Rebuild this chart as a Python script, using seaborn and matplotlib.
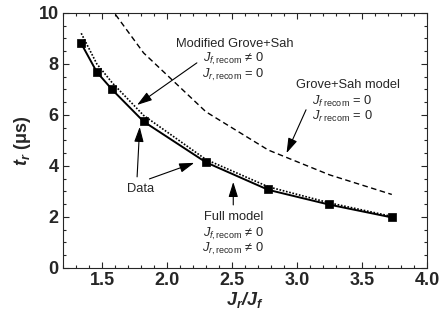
import matplotlib
matplotlib.use("Agg")
import matplotlib.pyplot as plt
import seaborn as sns
import pandas as pd
from matplotlib.ticker import MultipleLocator

# measured data (Jr/Jf, tr in us)
ratio = [1.34, 1.46, 1.58, 1.82, 2.30, 2.78, 3.25, 3.73]
tr_data = [8.8, 7.7, 7.0, 5.75, 4.17, 3.1, 2.5, 2.0]

# model curves evaluated at the same ratios
tr_full = [8.8, 7.68, 6.98, 5.74, 4.14, 3.06, 2.48, 1.98]
tr_modified = [9.2, 8.0, 7.25, 5.98, 4.25, 3.18, 2.55, 2.02]
tr_grove = [12.6, 11.3, 10.1, 8.43, 6.12, 4.62, 3.65, 2.88]

sns.set_style("ticks")
plt.rcParams['font.family'] = ['Liberation Sans', 'DejaVu Sans']
plt.rcParams['mathtext.fontset'] = 'custom'
plt.rcParams['mathtext.rm'] = 'Liberation Sans'
plt.rcParams['mathtext.it'] = 'Liberation Sans:italic'
plt.rcParams['mathtext.bf'] = 'Liberation Sans:italic:bold'
plt.rcParams['xtick.direction'] = 'in'
plt.rcParams['ytick.direction'] = 'in'

df = pd.DataFrame({'ratio': ratio, 'data': tr_data, 'full': tr_full,
                   'modified': tr_modified, 'grove': tr_grove})

fig = plt.figure(figsize=(4.47, 3.22), dpi=100)
ax = fig.add_axes([0.141, 0.168, 0.814, 0.792])

sns.lineplot(data=df, x='ratio', y='grove', ax=ax, color='black', lw=1.0,
             linestyle=(0, (4, 2.5)))
sns.lineplot(data=df, x='ratio', y='modified', ax=ax, color='black', lw=1.2,
             linestyle=(0, (1, 1)))
sns.lineplot(data=df, x='ratio', y='full', ax=ax, color='black', lw=1.4)
sns.scatterplot(data=df, x='ratio', y='data', ax=ax, color='black', marker='s',
                s=40, edgecolor='black', zorder=5)

ax.set_xlim(1.2, 4.0)
ax.set_ylim(0, 10)
ax.xaxis.set_minor_locator(MultipleLocator(0.1))
ax.yaxis.set_minor_locator(MultipleLocator(0.5))
ax.tick_params(which='both', top=True, right=True, labelsize=13, width=0.8)
ax.tick_params(which='major', length=4, pad=3)
ax.tick_params(which='minor', length=2)
ax.set_xticks([1.5, 2.0, 2.5, 3.0, 3.5, 4.0])
ax.set_xticklabels(['1.5', '2.0', '2.5', '3.0', '3.5', '4.0'], fontweight='bold')
ax.set_yticks([0, 2, 4, 6, 8, 10])
ax.set_yticklabels(['0', '2', '4', '6', '8', '10'], fontweight='bold')
for sp in ax.spines.values():
    sp.set_linewidth(0.8)

ax.set_xlabel(r'$\mathbf{J_r/J_f}$', fontsize=13, labelpad=1)
ax.set_ylabel(r'$\mathbf{t_r}$ (μs)', fontsize=13, fontweight='bold', labelpad=4)

fs = 9.3
arrow = dict(arrowstyle='-|>,head_length=0.7,head_width=0.22', color='black',
             lw=0.8, mutation_scale=13, shrinkA=0, shrinkB=0)

# Modified Grove+Sah
ax.text(2.52, 8.78, 'Modified Grove+Sah', ha='center', va='center', fontsize=fs)
ax.text(2.51, 8.18, r'$J_{f,\mathrm{recom}}$ ≠ 0', ha='center', va='center', fontsize=fs)
ax.text(2.51, 7.58, r'$J_{r,\mathrm{recom}}$ = 0', ha='center', va='center', fontsize=fs)
ax.annotate('', xy=(1.77, 6.39), xytext=(2.23, 8.04), arrowprops=arrow)

# Grove+Sah model
ax.text(3.39, 7.18, 'Grove+Sah model', ha='center', va='center', fontsize=fs)
ax.text(3.35, 6.53, r'$J_{f\ \mathrm{recom}}$ = 0', ha='center', va='center', fontsize=fs)
ax.text(3.35, 5.95, r'$J_{r\ \mathrm{recom}}$ = 0', ha='center', va='center', fontsize=fs)
ax.annotate('', xy=(2.92, 4.5), xytext=(3.07, 6.2), arrowprops=arrow)

# Full model
ax.text(2.51, 1.98, 'Full model', ha='center', va='center', fontsize=fs)
ax.text(2.51, 1.35, r'$J_{f,\mathrm{recom}}$ ≠ 0', ha='center', va='center', fontsize=fs)
ax.text(2.51, 0.75, r'$J_{r,\mathrm{recom}}$ ≠ 0', ha='center', va='center', fontsize=fs)
ax.annotate('', xy=(2.51, 3.37), xytext=(2.51, 2.47), arrowprops=arrow)

# Data
ax.text(1.80, 3.10, 'Data', ha='center', va='center', fontsize=fs)
ax.annotate('', xy=(1.79, 5.53), xytext=(1.77, 3.57), arrowprops=arrow)
ax.annotate('', xy=(2.21, 4.12), xytext=(1.865, 3.49), arrowprops=arrow)

fig.savefig('out.png', dpi=100)
